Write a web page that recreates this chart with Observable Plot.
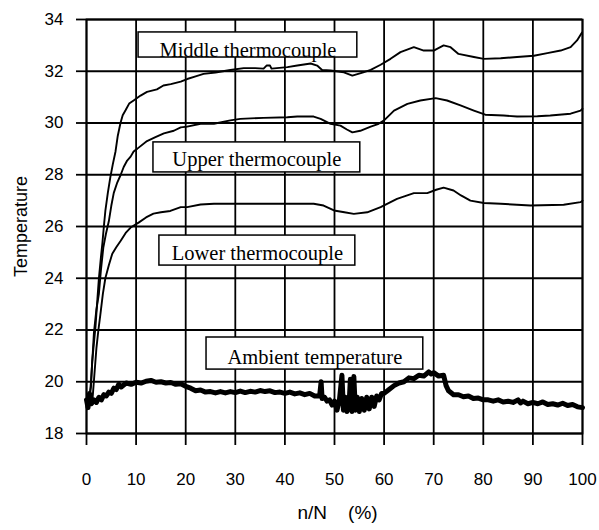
<!DOCTYPE html>
<html>
<head>
<meta charset="utf-8">
<script src="https://cdn.jsdelivr.net/npm/d3@7"></script>
<script src="https://cdn.jsdelivr.net/npm/@observablehq/plot@0.6"></script>
<style>
  html, body { margin: 0; padding: 0; background: #fff; }
  #chart { width: 599px; height: 530px; }
</style>
</head>
<body>
<div id="chart"></div>
<script>
const xTicks = [0, 10, 20, 30, 40, 50, 60, 70, 80, 90, 100];
const yTicks = [18, 20, 22, 24, 26, 28, 30, 32, 34];

const middle = [[0.5,19.3],[0.9,19.8],[1.15,20.8],[1.5,21.5],[1.8,22.1],[2.2,23.2],[2.5,24.0],[2.9,24.8],[3.2,25.35],[3.5,26.0],[3.8,26.6],[4.3,27.3],[4.8,27.9],[5.3,28.4],[5.85,28.9],[6.3,29.5],[6.85,30.0],[7.3,30.3],[7.9,30.5],[8.6,30.75],[9.5,30.87],[10.9,31.06],[12.2,31.2],[14.2,31.3],[15.5,31.45],[17,31.5],[19,31.6],[20.3,31.7],[22,31.8],[23.6,31.9],[26,31.95],[29,32.05],[31.7,32.12],[34,32.12],[35.7,32.1],[36.3,32.22],[37,32.22],[37.3,32.1],[40.5,32.16],[42.5,32.22],[45.2,32.3],[46.5,32.22],[47.5,32.05],[49.2,32.03],[51.9,31.96],[53.6,31.83],[55.8,31.96],[57.3,32.05],[59.3,32.25],[61.3,32.48],[63.3,32.74],[66,32.93],[68,32.8],[70,32.8],[72,33.0],[73.4,32.93],[75,32.67],[78.1,32.55],[80.1,32.48],[83.5,32.5],[86.8,32.55],[90.2,32.6],[92.9,32.7],[95.6,32.8],[97.6,32.93],[98.9,33.19],[99.9,33.5]];

const upper = [[0.6,19.3],[0.9,20.0],[1.2,20.9],[1.5,21.9],[2.0,22.8],[2.5,23.4],[2.9,24.3],[3.4,25.2],[3.9,25.7],[4.5,26.2],[5.0,26.8],[5.5,27.3],[6.2,27.7],[6.9,28.0],[7.5,28.3],[8.2,28.55],[8.9,28.7],[9.5,28.9],[10.2,29.0],[12.2,29.3],[13.9,29.45],[15.6,29.6],[17.6,29.7],[19,29.83],[20.3,29.86],[23,29.97],[25.7,29.97],[29,30.1],[31,30.16],[35.7,30.2],[40.5,30.22],[42.5,30.25],[45.8,30.25],[47.2,30.16],[49.2,29.97],[51.2,29.9],[52.5,29.75],[53.6,29.64],[55.2,29.7],[57.3,29.86],[58.9,29.97],[60,30.1],[62,30.48],[64.7,30.74],[67.3,30.87],[70.4,30.96],[72.7,30.87],[75.4,30.68],[78.1,30.48],[80.4,30.32],[84.1,30.29],[86.8,30.25],[90.9,30.26],[93.5,30.29],[97.6,30.36],[99.6,30.48],[100,30.55]];

const lower = [[1.2,19.3],[1.6,20.3],[2.0,21.3],[2.4,22.0],[2.8,22.6],[3.3,23.4],[3.8,24.0],[4.5,24.5],[5.2,24.95],[6,25.2],[6.9,25.45],[7.9,25.75],[8.9,25.96],[10.5,26.15],[12,26.35],[13.5,26.5],[15,26.55],[16.9,26.6],[19,26.75],[20.3,26.75],[23,26.85],[25.7,26.88],[32.4,26.88],[39.1,26.88],[45.8,26.88],[47.8,26.81],[49.9,26.62],[52,26.55],[53.9,26.49],[56.6,26.55],[59.3,26.75],[62.6,27.07],[66,27.29],[68.7,27.29],[70.5,27.42],[72,27.5],[74,27.39],[75.5,27.2],[77.4,27.0],[80.1,26.91],[83.5,26.88],[89.5,26.81],[96.2,26.84],[99.6,26.94],[100,27.0]];

const ambient = [[0,19.3],[0.3,19.0],[0.6,19.55],[1,19.15],[1.5,19.3],[2,19.2],[2.5,19.4],[3,19.3],[3.5,19.5],[4,19.45],[4.5,19.6],[5,19.55],[5.5,19.75],[6,19.7],[6.5,19.9],[7,19.8],[8,19.95],[9,19.9],[10,19.98],[11,19.95],[12,20.02],[13,20.05],[14,19.98],[15,20.0],[16,19.95],[17,19.97],[18,19.9],[19,19.92],[20,19.82],[21,19.75],[22,19.65],[23,19.68],[24,19.6],[25,19.62],[26,19.57],[27,19.62],[28,19.57],[29,19.62],[30,19.58],[31,19.64],[32,19.58],[33,19.63],[34,19.6],[35,19.66],[36,19.62],[37,19.65],[38,19.58],[39,19.6],[40,19.55],[41,19.6],[42,19.53],[43,19.57],[44,19.5],[45,19.55],[46,19.45],[47,19.45],[47.3,20.0],[47.5,19.35],[48,19.4],[48.5,19.25],[49,19.3],[49.5,19.1],[50,19.25],[50.5,18.9],[51,19.3],[51.5,20.25],[51.8,18.9],[52.2,19.4],[52.5,18.85],[53,19.35],[53.2,20.1],[53.5,18.85],[53.9,20.2],[54.2,18.9],[54.6,19.4],[55,18.85],[55.5,19.35],[56,18.9],[56.5,19.4],[57,18.95],[57.5,19.4],[58,19.05],[58.5,19.45],[59,19.3],[59.5,19.55],[60,19.55],[61,19.7],[62,19.85],[63,19.95],[64,20.0],[65,20.15],[66,20.12],[67,20.25],[68,20.22],[69,20.38],[69.5,20.3],[70,20.35],[71,20.22],[72,20.25],[72.5,19.85],[73,19.65],[74,19.5],[75,19.5],[76,19.42],[77,19.45],[78,19.35],[79,19.37],[80,19.3],[81,19.3],[82,19.25],[83,19.3],[84,19.22],[85,19.25],[86,19.2],[87,19.3],[87.5,19.18],[88,19.25],[89,19.15],[90,19.2],[91,19.15],[92,19.22],[93,19.12],[94,19.15],[95,19.1],[96,19.17],[97,19.08],[98,19.12],[99,19.03],[100,19.0]];

const labelText = ["Middle thermocouple", "Upper thermocouple", "Lower thermocouple", "Ambient temperature"];
const labelX1 = [10.5, 13.5, 14.7, 24.2];
const labelX2 = [54.6, 55.2, 54.2, 67.9];
const labelY1 = [32.53, 28.09, 24.49, 20.47];
const labelY2 = [33.50, 29.25, 25.65, 21.71];
const labelBase = [32.54, 28.33, 24.69, 20.67];

const labels = labelText.map((t, i) => ({text: t, x1: labelX1[i], x2: labelX2[i], y1: labelY1[i], y2: labelY2[i], xc: (labelX1[i] + labelX2[i]) / 2, yb: labelBase[i]}));

const sans = "'Liberation Sans', Arial, sans-serif";
const serif = "'Liberation Serif', 'Times New Roman', serif";
const nb = "\u00a0";

const W = 599, H = 530, ML = 86, MR = 17, MT = 19, MB = 97;
const frameW = W - ML - MR, frameH = H - MT - MB;

const chart = Plot.plot({
  width: W,
  height: H,
  marginLeft: ML,
  marginRight: MR,
  marginTop: MT,
  marginBottom: MB,
  x: {domain: [0, 100]},
  y: {domain: [18, 34]},
  style: {fontFamily: sans, fontSize: "17px", color: "black", background: "white"},
  marks: [
    Plot.ruleX(xTicks, {x: d => d, stroke: "black", strokeWidth: 1.8}),
    Plot.ruleY(yTicks, {y: d => d, stroke: "black", strokeWidth: 1.8}),
    // tick marks outside the frame
    Plot.ruleX(xTicks, {x: d => d, stroke: "black", strokeWidth: 1.8, insetTop: frameH, insetBottom: -12}),
    Plot.ruleY(yTicks, {y: d => d, stroke: "black", strokeWidth: 1.8, insetLeft: -10, insetRight: frameW}),
    Plot.frame({stroke: "black", strokeWidth: 1.8}),
    Plot.axisX(xTicks, {tickSize: 0, tickPadding: 39, label: null, fontSize: 17, fill: "black"}),
    Plot.axisY(yTicks, {tickSize: 0, tickPadding: 23, label: null, fontSize: 17, fill: "black"}),
    Plot.line(ambient, {x: d => d[0], y: d => d[1], stroke: "black", strokeWidth: 5}),
    Plot.line(lower, {x: d => d[0], y: d => d[1], stroke: "black", strokeWidth: 1.9}),
    Plot.line(upper, {x: d => d[0], y: d => d[1], stroke: "black", strokeWidth: 1.9}),
    Plot.line(middle, {x: d => d[0], y: d => d[1], stroke: "black", strokeWidth: 1.9}),
    Plot.rect(labels, {x1: "x1", x2: "x2", y1: "y1", y2: "y2", fill: "white", stroke: "black", strokeWidth: 1.5}),
    Plot.text(labels, {x: "xc", y: "yb", text: "text", lineAnchor: "bottom", textAnchor: "middle", fontFamily: serif, fontSize: 20.5, fill: "black"}),
    Plot.text(["Temperature"], {frameAnchor: "left", textAnchor: "middle", dx: -65, rotate: -90, fontSize: 18, fill: "black"}),
    Plot.text(["n/N" + nb + nb + nb + nb + "(%)"], {frameAnchor: "bottom", textAnchor: "middle", lineAnchor: "middle", dx: 3, dy: 79, fontSize: 19, fill: "black"})
  ]
});
document.getElementById("chart").appendChild(chart);
</script>
</body>
</html>
